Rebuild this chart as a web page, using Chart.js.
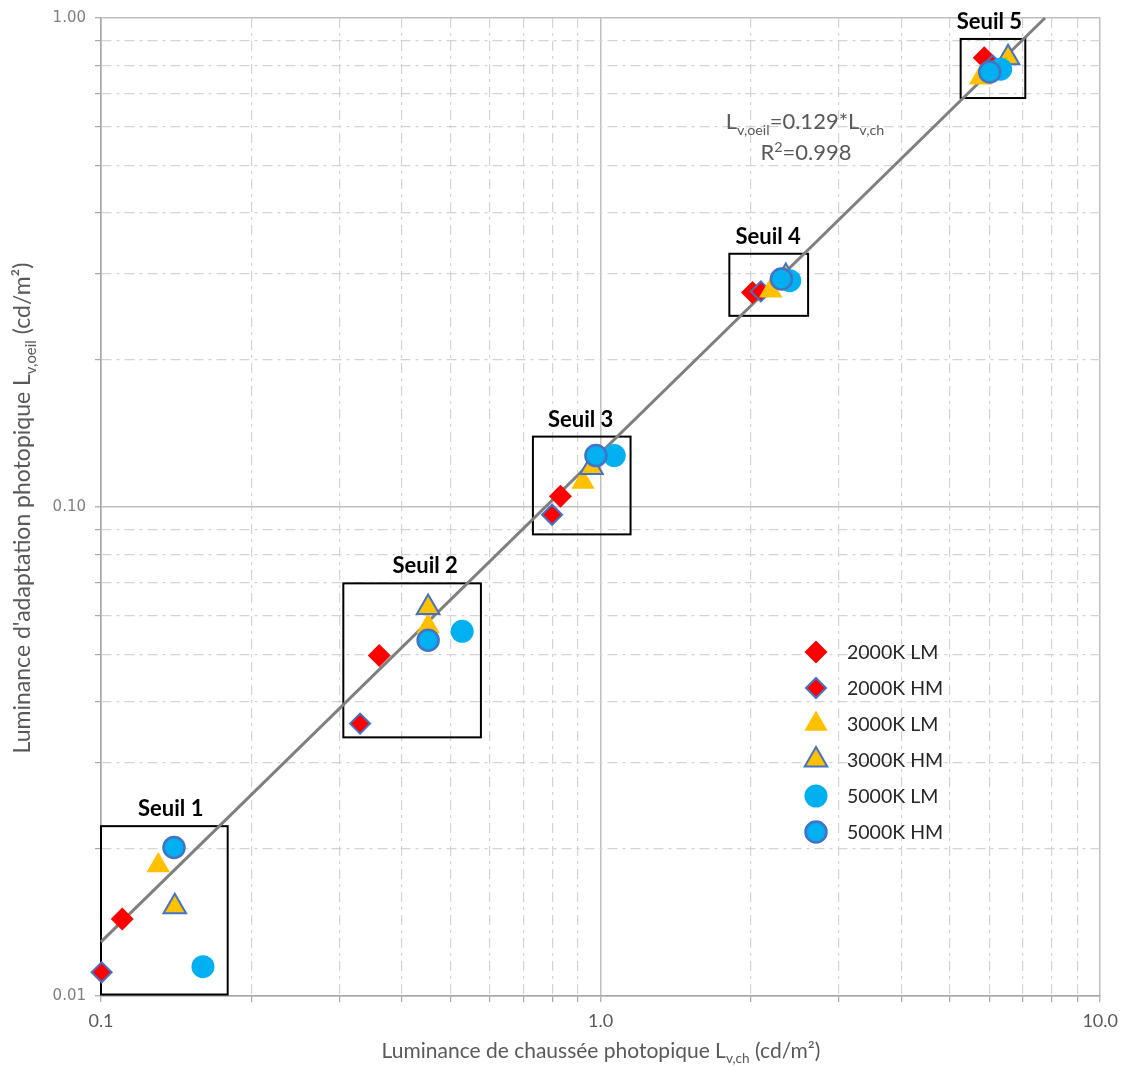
<!DOCTYPE html>
<html>
<head>
<meta charset="utf-8">
<script src="https://cdn.jsdelivr.net/npm/chart.js@4.4.1/dist/chart.umd.min.js"></script>
<style>
  html, body { margin: 0; padding: 0; background: #fff; }
</style>
</head>
<body>
<canvas id="chart" width="1126" height="1066"></canvas>
<script>
// series (x = road luminance, y = adaptation luminance)
const seriesNames = ["2000K LM", "2000K HM", "3000K LM", "3000K HM", "5000K LM", "5000K HM"];

const x2000LM = [0.1103, 0.3605, 0.831, 2.014, 5.86];
const y2000LM = [0.01437, 0.0497, 0.1052, 0.2747, 0.8295];
const x2000HM = [0.1003, 0.330, 0.7995, 2.093, 6.09];
const y2000HM = [0.01118, 0.03606, 0.0964, 0.2760, 0.800];
const x3000LM = [0.1302, 0.4516, 0.922, 2.19, 5.76];
const y3000LM = [0.01848, 0.0570, 0.1125, 0.277, 0.7545];
const x3000HM = [0.1405, 0.4516, 0.959, 2.348, 6.54];
const y3000HM = [0.01523, 0.0623, 0.1205, 0.2961, 0.8293];
const x5000LM = [0.160, 0.5283, 1.065, 2.391, 6.32];
const y5000LM = [0.01148, 0.0557, 0.1274, 0.2902, 0.7857];
const x5000HM = [0.1400, 0.4516, 0.9786, 2.301, 6.01];
const y5000HM = [0.02012, 0.0534, 0.1274, 0.2925, 0.7756];

// trend line L_v,oeil = 0.129 * L_v,ch (ends at the top of the plot)
const trendX = [0.1, 7.752];
const trendY = [0.0129, 1.0];

// "Seuil" boxes
const seuilNames = ["Seuil 1", "Seuil 2", "Seuil 3", "Seuil 4", "Seuil 5"];
const boxXmin = [0.1, 0.3055, 0.732, 1.81, 5.256];
const boxXmax = [0.1793, 0.576, 1.148, 2.602, 7.08];
const boxYmax = [0.02225, 0.0698, 0.1393, 0.3295, 0.906];
const boxYmin = [0.01007, 0.0338, 0.0879, 0.246, 0.686];
const seuilLabelX = [0.1379, 0.4454, 0.912, 2.165, 6.0];

const xTicks = [0.1, 0.2, 0.3, 0.4, 0.5, 0.6, 0.7, 0.8, 0.9, 1, 2, 3, 4, 5, 6, 7, 8, 9, 10];
const yTicks = [0.01, 0.02, 0.03, 0.04, 0.05, 0.06, 0.07, 0.08, 0.09, 0.1, 0.2, 0.3, 0.4, 0.5, 0.6, 0.7, 0.8, 0.9, 1];
const xMajor = [0.1, 1, 10];
const yMajor = [0.01, 0.1, 1];

const FONT = "Lato, 'Open Sans', sans-serif";
const BLUE = "#4472C4";
const markers = [
  { style: "rectRot", r: 11.5, fill: "#FF0000", line: "#FF0000", bw: 0 },
  { style: "rectRot", r: 10, fill: "#FF0000", line: BLUE, bw: 2 },
  { style: "triangle", r: 13.5, fill: "#FFC000", line: "#FFC000", bw: 0 },
  { style: "triangle", r: 13, fill: "#FFC000", line: BLUE, bw: 2 },
  { style: "circle", r: 11.5, fill: "#00B0F0", line: "#00B0F0", bw: 0 },
  { style: "circle", r: 10.5, fill: "#00B0F0", line: BLUE, bw: 2.5 }
];

const xs = [x2000LM, x2000HM, x3000LM, x3000HM, x5000LM, x5000HM];
const ys = [y2000LM, y2000HM, y3000LM, y3000HM, y5000LM, y5000HM];

const datasets = seriesNames.map((name, i) => ({
  label: name,
  data: xs[i].map((x, j) => ({ x: x, y: ys[i][j] })),
  pointStyle: markers[i].style,
  pointRadius: markers[i].r,
  pointHoverRadius: markers[i].r,
  backgroundColor: markers[i].fill,
  borderColor: markers[i].line,
  borderWidth: markers[i].bw,
  showLine: false,
  clip: false,
  order: 6 - i
}));

datasets.push({
  label: "trend",
  data: trendX.map((x, j) => ({ x: x, y: trendY[j] })),
  showLine: true,
  borderColor: "#7f7f7f",
  borderWidth: 3,
  pointRadius: 0,
  fill: false,
  clip: false,
  order: 10
});

// draws a string with sub (1) / superscript (2) parts, centred on cx
function richText(ctx, parts, cx, baseY, size, color, weight) {
  ctx.save();
  ctx.fillStyle = color;
  ctx.textBaseline = "alphabetic";
  ctx.textAlign = "left";
  const fontFor = p => (weight || "") + " " + (p[1] ? size * 0.65 : size) + "px " + FONT;
  let w = 0;
  parts.forEach(p => { ctx.font = fontFor(p); w += ctx.measureText(p[0]).width; });
  let x = cx - w / 2;
  parts.forEach(p => {
    ctx.font = fontFor(p);
    const dy = p[1] === 1 ? size * 0.25 : p[1] === 2 ? -size * 0.38 : 0;
    ctx.fillText(p[0], x, baseY + dy);
    x += ctx.measureText(p[0]).width;
  });
  ctx.restore();
}

function marker(ctx, m, x, y) {
  ctx.save();
  ctx.fillStyle = m.fill;
  ctx.strokeStyle = m.line;
  ctx.lineWidth = m.bw;
  Chart.helpers.drawPoint(ctx, { pointStyle: m.style, radius: m.r, borderWidth: m.bw, rotation: 0 }, x, y);
  ctx.restore();
}

const extras = {
  id: "extras",
  beforeDatasetsDraw(chart) {
    const { ctx, scales: { x, y } } = chart;
    ctx.save();
    ctx.strokeStyle = "#000";
    ctx.lineWidth = 2;
    seuilNames.forEach((s, i) => {
      const l = x.getPixelForValue(boxXmin[i]), r = x.getPixelForValue(boxXmax[i]);
      const t = y.getPixelForValue(boxYmax[i]), b = y.getPixelForValue(boxYmin[i]);
      ctx.strokeRect(l, t, r - l, b - t);
    });
    ctx.restore();
  },
  afterDraw(chart) {
    const { ctx, scales: { x, y } } = chart;
    // seuil labels
    seuilNames.forEach((s, i) => {
      richText(ctx, [[s, 0]], x.getPixelForValue(seuilLabelX[i]), y.getPixelForValue(boxYmax[i]) - 10, 22, "#000", "bold");
    });
    // equation
    richText(ctx, [["L", 0], ["v,oeil", 1], ["=0.129*L", 0], ["v,ch", 1]], 805, 129, 22, "#595959");
    richText(ctx, [["R", 0], ["2", 2], ["=0.998", 0]], 806, 160, 22, "#595959");
    // legend
    ctx.save();
    seriesNames.forEach((name, i) => {
      const cy = 652 + 36 * i;
      marker(ctx, markers[i], 816, cy);
      ctx.font = "19.5px " + FONT;
      ctx.fillStyle = "#262626";
      ctx.textAlign = "left";
      ctx.textBaseline = "alphabetic";
      ctx.fillText(name, 847, cy + 7);
    });
    ctx.restore();
    // axis titles
    richText(ctx, [["Luminance de chaussée photopique L", 0], ["v,ch", 1], [" (cd/m²)", 0]], 601, 1058, 21, "#595959");
    ctx.save();
    ctx.translate(30, 508);
    ctx.rotate(-Math.PI / 2);
    richText(ctx, [["Luminance d'adaptation photopique L", 0], ["v,oeil", 1], [" (cd/m²)", 0]], 0, 0, 23, "#595959");
    ctx.restore();
  }
};

function gridOpts(majors) {
  return {
    color: c => (c.tick && majors.includes(c.tick.value)) ? "#bfbfbf" : "#d4d4d4",
    lineWidth: c => (c.tick && majors.includes(c.tick.value)) ? 1.5 : 1.2,
    tickLength: 6,
    tickColor: "#a6a6a6",
    tickWidth: 1.2
  };
}

function borderOpts(majors) {
  return {
    color: "#a6a6a6",
    width: 1.5,
    dash: c => (c.tick && !majors.includes(c.tick.value)) ? [10, 5, 3, 5] : []
  };
}

new Chart(document.getElementById("chart"), {
  type: "scatter",
  data: { datasets: datasets },
  options: {
    responsive: false,
    animation: false,
    layout: { padding: { left: 0, top: 17, right: 23, bottom: 0 } },
    plugins: { legend: { display: false }, tooltip: { enabled: false } },
    scales: {
      x: {
        type: "logarithmic",
        min: 0.1,
        max: 10,
        afterBuildTicks: s => { s.ticks = xTicks.map(v => ({ value: v })); },
        afterFit: s => { s.height = 70; },
        grid: gridOpts(xMajor),
        border: borderOpts(xMajor),
        ticks: {
          autoSkip: false,
          maxRotation: 0,
          padding: 8,
          color: "#595959",
          font: { family: FONT, size: 18 },
          callback: v => xMajor.includes(v) ? v.toFixed(1) : ""
        }
      },
      y: {
        type: "logarithmic",
        min: 0.01,
        max: 1,
        afterBuildTicks: s => { s.ticks = yTicks.map(v => ({ value: v })); },
        afterFit: s => { s.width = 101; },
        grid: gridOpts(yMajor),
        border: borderOpts(yMajor),
        ticks: {
          autoSkip: false,
          padding: 9,
          color: "#7f7f7f",
          font: { family: "DejaVu Sans", size: 15 },
          callback: v => yMajor.includes(v) ? v.toFixed(2) : ""
        }
      }
    }
  },
  plugins: [extras]
});
</script>
</body>
</html>
